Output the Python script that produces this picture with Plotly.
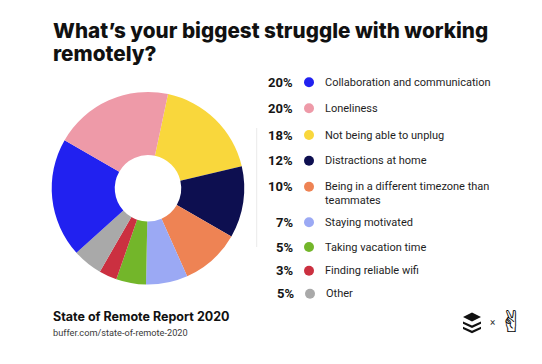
import plotly.graph_objects as go

# ---- data ----
labels = [
    "Collaboration and communication",
    "Loneliness",
    "Not being able to unplug",
    "Distractions at home",
    "Being in a different timezone than<br>teammates",
    "Staying motivated",
    "Taking vacation time",
    "Finding reliable wifi",
    "Other",
]
values = [20, 20, 18, 12, 10, 7, 5, 3, 5]
pct_labels = ["20%", "20%", "18%", "12%", "10%", "7%", "5%", "3%", "5%"]
colors = ["#2121F0", "#EE9AA8", "#F9D73C", "#0D0F50", "#EE8354",
          "#9BA9F4", "#73B62A", "#CB3040", "#A9A9A9"]
# order in which the slices run clockwise around the donut
pie_order = [2, 3, 4, 5, 6, 7, 8, 0, 1]

title_lines = ["What’s your biggest struggle with working", "remotely?"]
source_title = "State of Remote Report 2020"
source_url = "buffer.com/state-of-remote-2020"

W, H = 542, 364

fig = go.Figure()

# donut
cx, cy, r = 148, 188.3, 96.3
fig.add_trace(go.Pie(
    labels=[labels[i].replace("<br>", " ") for i in pie_order],
    values=[values[i] for i in pie_order],
    marker=dict(colors=[colors[i] for i in pie_order], line=dict(width=0)),
    sort=False, direction="clockwise", rotation=12,
    hole=0.345, textinfo="none", showlegend=False,
    domain=dict(x=[(cx - r) / W, (cx + r) / W], y=[(H - cy - r) / H, (H - cy + r) / H]),
))

# custom legend (pixel-space overlay axes)
row_y = [82.3, 108.3, 135, 160.7, 193.3, 222.3, 247, 270.7, 293.7]
dot_y = [82.3, 108.3, 135, 160.7, 186.7, 222.3, 247, 270.7, 293.7]
dx_off = [0, 0, 0, 0, 0, 0, 0, 0, 1]
fig.add_trace(go.Scatter(
    x=[309 + d for d in dx_off], y=dot_y, mode="markers",
    marker=dict(size=10, color=colors, line=dict(width=0)),
    hoverinfo="skip", showlegend=False, xaxis="x", yaxis="y",
))

ann = []
# title
for yy, t in zip([30.3, 53], title_lines):
    ann.append(dict(x=52, y=yy, xref="x", yref="y", text=t, showarrow=False,
                    xanchor="left", yanchor="middle", borderpad=0,
                    font=dict(family="Inter", size=20.7, color="#111111", weight=800)))

for i in range(len(labels)):
    ann.append(dict(x=294 + dx_off[i], y=dot_y[i], xref="x", yref="y", text=pct_labels[i],
                    showarrow=False, xanchor="right", yanchor="middle", borderpad=0,
                    font=dict(family="Roboto", size=13, color="#151515", weight=700)))
    ann.append(dict(x=323.5 + 1.5 * dx_off[i], y=row_y[i], xref="x", yref="y", text=labels[i],
                    showarrow=False, xanchor="left", yanchor="middle", align="left",
                    borderpad=0,
                    font=dict(family="Roboto", size=11, color="#1E1E1E")))

# footer
ann.append(dict(x=52, y=316, xref="x", yref="y", text=source_title, showarrow=False,
                xanchor="left", yanchor="middle", borderpad=0,
                font=dict(family="Inter", size=12.5, color="#111111", weight=700)))
ann.append(dict(x=52, y=332.5, xref="x", yref="y", text=source_url, showarrow=False,
                xanchor="left", yanchor="middle", borderpad=0,
                font=dict(family="Roboto", size=9.2, color="#3A3A3A")))
ann.append(dict(x=492, y=322, xref="x", yref="y", text="×", showarrow=False,
                xanchor="center", yanchor="middle", borderpad=0,
                font=dict(family="Roboto", size=10, color="#333333")))
ann.append(dict(x=511, y=321, xref="x", yref="y", text="✌", showarrow=False,
                xanchor="center", yanchor="middle", borderpad=0,
                font=dict(family="DejaVu Sans", size=30, color="#000000", weight=700)))

shapes = [
    dict(type="line", xref="x", yref="y", x0=256.7, x1=256.7, y0=128, y1=247,
         line=dict(color="#EBEBEB", width=1)),
    # buffer logo: top diamond + two chevrons
    dict(type="path", xref="x", yref="y",
         path="M 463 317 L 472 312.5 L 481 317 L 472 321.5 Z",
         fillcolor="#111111", line=dict(width=0)),
    dict(type="path", xref="x", yref="y",
         path="M 463 321.5 L 472 325.5 L 481 321.5 L 481 323.8 L 472 328 L 463 323.8 Z",
         fillcolor="#111111", line=dict(width=0)),
    dict(type="path", xref="x", yref="y",
         path="M 463 326.8 L 472 330.8 L 481 326.8 L 481 329.1 L 472 333.3 L 463 329.1 Z",
         fillcolor="#111111", line=dict(width=0)),
]

fig.update_layout(
    width=W, height=H,
    margin=dict(l=0, r=0, t=0, b=0),
    paper_bgcolor="white", plot_bgcolor="rgba(0,0,0,0)",
    xaxis=dict(range=[0, W], visible=False, fixedrange=True, domain=[0, 1]),
    yaxis=dict(range=[H, 0], visible=False, fixedrange=True, domain=[0, 1]),
    annotations=ann, shapes=shapes,
)

fig.write_html("out.html", config={"displayModeBar": False},
               post_script="document.body.style.margin='0';document.body.style.padding='0';")
